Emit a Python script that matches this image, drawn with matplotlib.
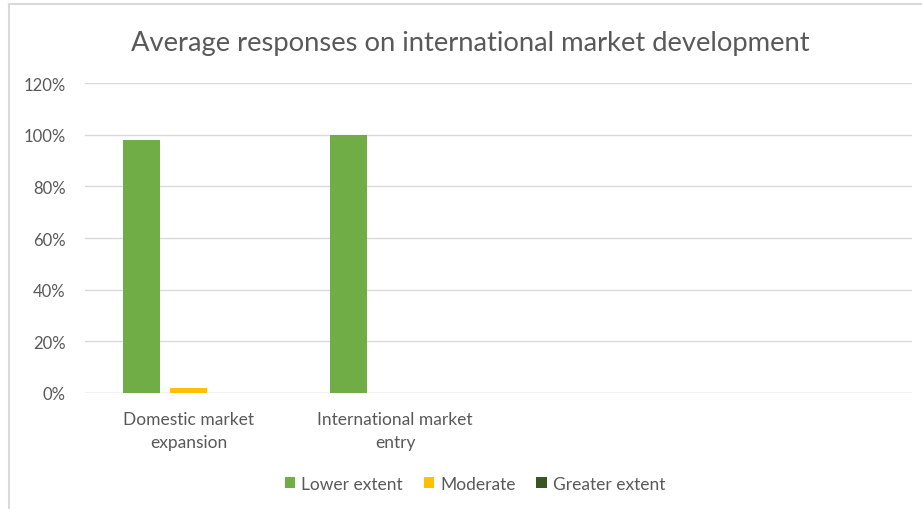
import matplotlib.pyplot as plt
from matplotlib.lines import Line2D
import numpy as np

plt.rcParams['font.family'] = ['Lato', 'DejaVu Sans']

categories = ['Domestic market\nexpansion', 'International market\nentry', '', '']
series = ['Lower extent', 'Moderate', 'Greater extent']
lower = [0.98, 1.00, np.nan, np.nan]
moderate = [0.02, 0.0, np.nan, np.nan]
greater = [0.0, 0.0, np.nan, np.nan]
colors = ['#70ad47', '#ffc000', '#375623']

W, H = 922, 510
fig = plt.figure(figsize=(W / 100, H / 100), dpi=100)
ax = fig.add_axes([85 / W, 116 / H, 827 / W, 310 / H])

x = np.arange(len(categories))
width = 0.178
offsets = [-0.227, 0.0, 0.227]
for vals, off, col, name in zip([lower, moderate, greater], offsets, colors, series):
    ax.bar(x + off, vals, width, color=col, label=name, zorder=3)

ax.set_xlim(-0.5, len(categories) - 0.5)
ax.set_ylim(0, 1.2)
ax.set_yticks(np.arange(0, 1.21, 0.2))
ax.set_yticklabels([f'{int(round(v * 100))}%' for v in np.arange(0, 1.21, 0.2)])
ax.set_xticks(x)
ax.set_xticklabels(categories, linespacing=1.5)
ax.tick_params(axis='both', length=0, colors='#595959')
ax.tick_params(axis='y', pad=14, labelsize=12)
ax.tick_params(axis='x', pad=13, labelsize=12.5)
ax.grid(axis='y', color='#d9d9d9', linewidth=1, zorder=0)
for s in ax.spines.values():
    s.set_visible(False)
ax.axhline(0, color='#d9d9d9', linewidth=1, zorder=2)

fig.text(470 / W, 1 - 43 / H, 'Average responses on international market development',
         ha='center', va='center', fontsize=19.7, color='#595959')

leg = fig.legend(loc='center', bbox_to_anchor=(475 / W, 1 - 485 / H), ncol=3,
                 frameon=False, fontsize=12.5, handlelength=0.6, handleheight=0.6,
                 handletextpad=0.35, columnspacing=1.2)
for t in leg.get_texts():
    t.set_color('#595959')

# chart border (left and top visible)
fig.add_artist(Line2D([8.5 / W, 8.5 / W], [0, 1 - 4.5 / H], color='#d9d9d9', linewidth=1.5))
fig.add_artist(Line2D([8.5 / W, 921 / W], [1 - 4.5 / H, 1 - 4.5 / H], color='#d9d9d9', linewidth=1.5))

fig.savefig('out.png', dpi=100)
